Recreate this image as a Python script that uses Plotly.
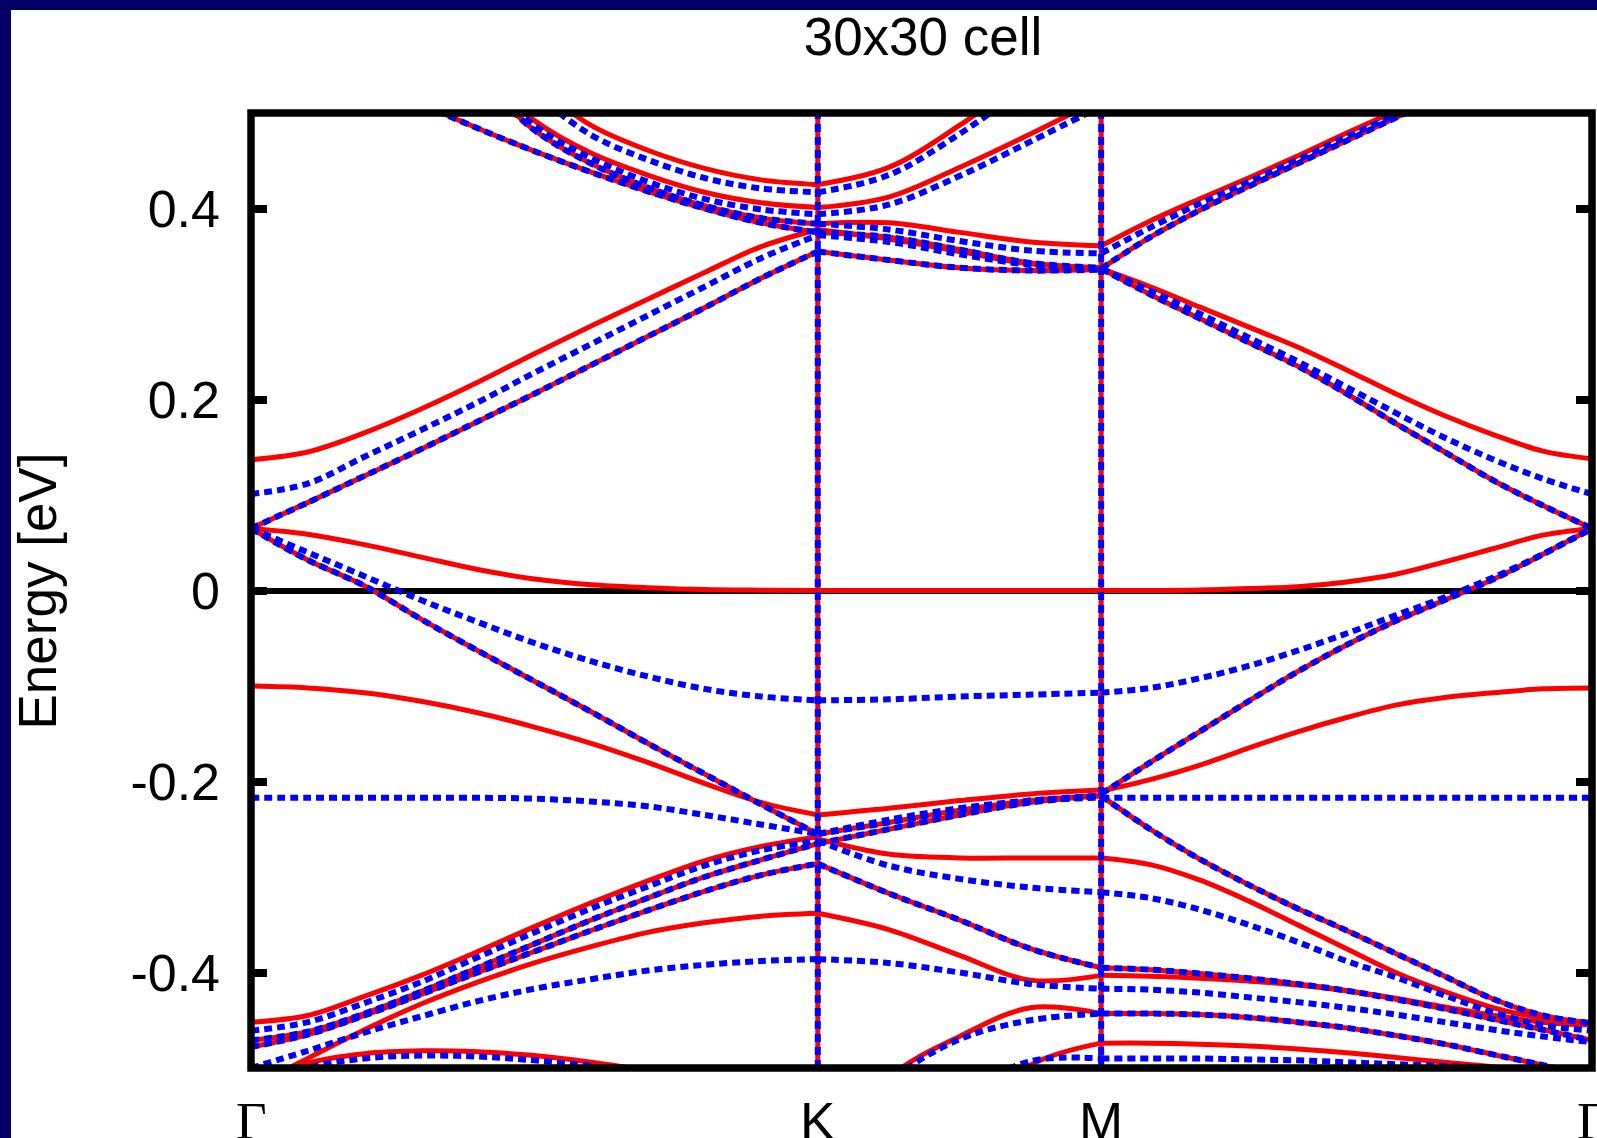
import plotly.graph_objects as go

# ---------------- text / axes ----------------
title_text = "30x30 cell"
y_label = "Energy [eV]"
sym_labels = ["Γ", "K", "M", "Γ"]
sym_pos = [0.0, 1.0, 1.5, 2.366]
ytick_vals = [-0.4, -0.2, 0.0, 0.2, 0.4]
ytick_text = ["-0.4", "-0.2", "0", "0.2", "0.4"]
y_range = [-0.5, 0.5]

# fractional positions along each path segment
t_GK = [0.0, 0.1, 0.2, 0.3, 0.4, 0.5, 0.6, 0.7, 0.8, 0.9, 1.0]
s_KM = [0.0, 0.25, 0.5, 0.75, 1.0]
u_MG = [0.0, 0.1, 0.2, 0.3, 0.4, 0.5, 0.6, 0.7, 0.8, 0.9, 1.0]

# ---------------- bands: segment Gamma-K ----------------
red_GK = [
    [0.137, 0.145, 0.165, 0.19, 0.218, 0.248, 0.277, 0.305, 0.333, 0.36, 0.378],
    [0.065, 0.092, 0.12, 0.148, 0.177, 0.206, 0.236, 0.266, 0.296, 0.327, 0.355],
    [0.68, 0.64, 0.60, 0.565, 0.575, 0.53, 0.487, 0.461, 0.442, 0.43, 0.425],
    [0.70, 0.66, 0.62, 0.58, 0.545, 0.492, 0.458, 0.435, 0.417, 0.406, 0.401],
    [0.68, 0.64, 0.60, 0.57, 0.535, 0.482, 0.447, 0.422, 0.403, 0.39, 0.384],
    [0.60, 0.57, 0.54, 0.51, 0.484, 0.46, 0.438, 0.418, 0.40, 0.385, 0.375],
    [0.065, 0.059, 0.048, 0.035, 0.022, 0.012, 0.006, 0.003, 0.001, 0.0003, 0.0],
    [0.065, 0.032, 0.005, -0.03, -0.063, -0.095, -0.127, -0.16, -0.192, -0.224, -0.255],
    [-0.1, -0.102, -0.107, -0.116, -0.128, -0.143, -0.16, -0.18, -0.202, -0.222, -0.235],
    [-0.452, -0.445, -0.425, -0.403, -0.378, -0.352, -0.327, -0.304, -0.283, -0.268, -0.258],
    [-0.471, -0.462, -0.443, -0.42, -0.395, -0.37, -0.345, -0.322, -0.30, -0.282, -0.265],
    [-0.478, -0.465, -0.445, -0.423, -0.40, -0.378, -0.356, -0.335, -0.315, -0.298, -0.286],
    [-0.52, -0.49, -0.46, -0.433, -0.41, -0.39, -0.373, -0.358, -0.348, -0.341, -0.338],
    [-0.52, -0.495, -0.485, -0.482, -0.483, -0.487, -0.494, -0.503, -0.515, -0.53, -0.55],
]
blue_GK = [
    [0.101, 0.112, 0.14, 0.168, 0.197, 0.228, 0.258, 0.288, 0.318, 0.348, 0.372],
    [0.065, 0.092, 0.12, 0.148, 0.177, 0.206, 0.236, 0.266, 0.296, 0.327, 0.355],
    [0.67, 0.63, 0.59, 0.555, 0.565, 0.52, 0.477, 0.451, 0.432, 0.421, 0.417],
    [0.70, 0.66, 0.62, 0.58, 0.54, 0.487, 0.453, 0.428, 0.41, 0.399, 0.394],
    [0.68, 0.64, 0.60, 0.57, 0.535, 0.482, 0.447, 0.422, 0.403, 0.39, 0.384],
    [0.60, 0.57, 0.54, 0.51, 0.484, 0.46, 0.438, 0.418, 0.40, 0.385, 0.375],
    [0.065, 0.04, 0.015, -0.01, -0.033, -0.055, -0.074, -0.09, -0.103, -0.111, -0.115],
    [0.065, 0.032, 0.005, -0.03, -0.063, -0.095, -0.127, -0.16, -0.192, -0.224, -0.255],
    [-0.217, -0.217, -0.217, -0.217, -0.217, -0.218, -0.221, -0.226, -0.235, -0.245, -0.255],
    [-0.461, -0.452, -0.432, -0.41, -0.384, -0.358, -0.333, -0.31, -0.288, -0.272, -0.262],
    [-0.471, -0.462, -0.443, -0.42, -0.395, -0.37, -0.345, -0.322, -0.30, -0.282, -0.265],
    [-0.478, -0.465, -0.445, -0.423, -0.40, -0.378, -0.356, -0.335, -0.315, -0.298, -0.286],
    [-0.50, -0.482, -0.463, -0.446, -0.43, -0.417, -0.407, -0.398, -0.392, -0.388, -0.386],
    [-0.525, -0.50, -0.49, -0.487, -0.488, -0.492, -0.498, -0.507, -0.518, -0.533, -0.55],
]

# ---------------- bands: segment K-M ----------------
red_KM = [
    [0.425, 0.443, 0.487, 0.54, 0.59],
    [0.401, 0.412, 0.443, 0.478, 0.515],
    [0.384, 0.385, 0.375, 0.365, 0.361],
    [0.375, 0.37, 0.357, 0.343, 0.338],
    [0.355, 0.346, 0.338, 0.335, 0.336],
    [0.378, 0.368, 0.355, 0.342, 0.338],
    [0.0, 0.0, 0.0, 0.0, 0.0],
    [-0.235, -0.228, -0.22, -0.213, -0.209],
    [-0.255, -0.243, -0.23, -0.22, -0.215],
    [-0.265, -0.25, -0.235, -0.222, -0.215],
    [-0.26, -0.276, -0.28, -0.28, -0.28],
    [-0.286, -0.317, -0.345, -0.375, -0.395],
    [-0.338, -0.355, -0.382, -0.408, -0.403],
    [-0.60, -0.51, -0.467, -0.437, -0.443],
    [-0.75, -0.65, -0.56, -0.497, -0.474],
]
blue_KM = [
    [0.417, 0.435, 0.478, 0.53, 0.58],
    [0.394, 0.404, 0.434, 0.47, 0.507],
    [0.384, 0.378, 0.366, 0.356, 0.353],
    [0.375, 0.37, 0.357, 0.343, 0.338],
    [0.355, 0.346, 0.338, 0.335, 0.336],
    [0.372, 0.365, 0.352, 0.341, 0.337],
    [-0.115, -0.114, -0.111, -0.109, -0.107],
    [-0.255, -0.24, -0.228, -0.22, -0.217],
    [-0.255, -0.243, -0.23, -0.22, -0.215],
    [-0.265, -0.25, -0.235, -0.222, -0.215],
    [-0.262, -0.288, -0.302, -0.311, -0.316],
    [-0.286, -0.317, -0.345, -0.375, -0.395],
    [-0.386, -0.39, -0.40, -0.412, -0.417],
    [-0.60, -0.515, -0.47, -0.45, -0.443],
    [-0.70, -0.60, -0.53, -0.493, -0.49],
]

# ---------------- bands: segment M-Gamma ----------------
red_MG = [
    [0.361, 0.387, 0.41, 0.432, 0.455, 0.479, 0.502, 0.525, 0.55, 0.575, 0.60],
    [0.337, 0.37, 0.398, 0.423, 0.447, 0.471, 0.495, 0.519, 0.543, 0.567, 0.59],
    [0.337, 0.318, 0.297, 0.276, 0.255, 0.231, 0.206, 0.183, 0.163, 0.146, 0.138],
    [0.337, 0.31, 0.285, 0.26, 0.235, 0.206, 0.175, 0.145, 0.115, 0.089, 0.065],
    [0.0, 0.0, 0.0005, 0.002, 0.004, 0.009, 0.017, 0.03, 0.044, 0.058, 0.065],
    [-0.213, -0.18, -0.148, -0.116, -0.085, -0.057, -0.032, -0.01, 0.012, 0.038, 0.065],
    [-0.21, -0.198, -0.183, -0.165, -0.148, -0.133, -0.12, -0.112, -0.107, -0.103, -0.102],
    [-0.215, -0.25, -0.281, -0.308, -0.333, -0.356, -0.38, -0.404, -0.428, -0.445, -0.453],
    [-0.28, -0.287, -0.303, -0.325, -0.35, -0.375, -0.40, -0.42, -0.437, -0.448, -0.455],
    [-0.395, -0.397, -0.401, -0.406, -0.412, -0.419, -0.428, -0.438, -0.449, -0.46, -0.471],
    [-0.403, -0.404, -0.406, -0.409, -0.413, -0.419, -0.427, -0.436, -0.445, -0.452, -0.455],
    [-0.443, -0.443, -0.444, -0.447, -0.452, -0.458, -0.466, -0.475, -0.486, -0.497, -0.51],
    [-0.474, -0.474, -0.475, -0.477, -0.48, -0.484, -0.489, -0.494, -0.499, -0.505, -0.51],
]
blue_MG = [
    [0.353, 0.38, 0.405, 0.428, 0.451, 0.475, 0.498, 0.522, 0.546, 0.57, 0.594],
    [0.337, 0.37, 0.398, 0.423, 0.447, 0.471, 0.495, 0.519, 0.543, 0.567, 0.59],
    [0.337, 0.314, 0.29, 0.265, 0.24, 0.213, 0.186, 0.16, 0.137, 0.117, 0.101],
    [0.337, 0.31, 0.285, 0.26, 0.235, 0.206, 0.175, 0.145, 0.115, 0.089, 0.065],
    [-0.107, -0.102, -0.092, -0.079, -0.063, -0.045, -0.026, -0.007, 0.014, 0.038, 0.065],
    [-0.213, -0.18, -0.148, -0.116, -0.085, -0.057, -0.032, -0.01, 0.012, 0.038, 0.065],
    [-0.217, -0.217, -0.217, -0.217, -0.217, -0.217, -0.217, -0.217, -0.217, -0.217, -0.217],
    [-0.215, -0.25, -0.281, -0.308, -0.333, -0.356, -0.38, -0.404, -0.428, -0.445, -0.453],
    [-0.316, -0.322, -0.334, -0.35, -0.368, -0.388, -0.405, -0.424, -0.442, -0.455, -0.461],
    [-0.395, -0.397, -0.401, -0.406, -0.412, -0.419, -0.428, -0.438, -0.449, -0.46, -0.471],
    [-0.417, -0.418, -0.421, -0.426, -0.431, -0.437, -0.444, -0.452, -0.46, -0.467, -0.473],
    [-0.443, -0.443, -0.444, -0.447, -0.452, -0.458, -0.466, -0.475, -0.486, -0.497, -0.51],
    [-0.49, -0.49, -0.49, -0.491, -0.492, -0.494, -0.496, -0.498, -0.50, -0.503, -0.506],
]

# ---------------- style ----------------
W, H = 1597, 1138
ML, MR, MT, MB = 251, 5, 113, 70
RED = "#ff0000"
BLUE = "#0000ff"
NAVY = "#000066"
FONT = "Liberation Sans, Arial, sans-serif"
SERIF = "Liberation Serif, Times New Roman, serif"
FS = 53


def seg_x(a, b, fr):
    return [a + f * (b - a) for f in fr]


segments = [
    (seg_x(sym_pos[0], sym_pos[1], t_GK), red_GK, blue_GK),
    (seg_x(sym_pos[1], sym_pos[2], s_KM), red_KM, blue_KM),
    (seg_x(sym_pos[2], sym_pos[3], u_MG), red_MG, blue_MG),
]


def collect(which):
    xs, ys = [], []
    for seg in segments:
        xg = seg[0]
        for band in seg[which]:
            xs += list(xg) + [None]
            ys += list(band) + [None]
    # vertical lines at interior high-symmetry points
    for p in sym_pos[1:-1]:
        xs += [p, p, None]
        ys += [y_range[0], y_range[1], None]
    return xs, ys


fig = go.Figure()
rx, ry = collect(1)
bx, by = collect(2)
fig.add_trace(go.Scatter(x=rx, y=ry, mode="lines", hoverinfo="skip",
                         line=dict(color=RED, width=5, shape="spline", smoothing=1.0),
                         connectgaps=False, showlegend=False))
fig.add_trace(go.Scatter(x=bx, y=by, mode="lines", hoverinfo="skip",
                         line=dict(color=BLUE, width=6, dash="8px,5px", shape="spline", smoothing=1.0),
                         connectgaps=False, showlegend=False))

pw = W - ML - MR
ph = H - MT - MB
shapes = [
    dict(type="rect", xref="paper", yref="paper", x0=0, x1=1, y0=0, y1=1,
         line=dict(color="black", width=7.5), fillcolor="rgba(0,0,0,0)", layer="above"),
    # navy slide border (left and top)
    dict(type="rect", xref="paper", yref="paper", x0=-ML / pw, x1=(11 - ML) / pw,
         y0=-MB / ph, y1=1 + MT / ph, line=dict(width=0), fillcolor=NAVY, layer="above"),
    dict(type="rect", xref="paper", yref="paper", x0=-ML / pw, x1=1 + MR / pw,
         y0=1 + (MT - 10) / ph, y1=1 + MT / ph, line=dict(width=0), fillcolor=NAVY, layer="above"),
]

annotations = []
for lab, pos in zip(sym_labels, sym_pos):
    fam = SERIF if lab == "Γ" else FONT
    annotations.append(dict(x=pos, xref="x", y=-(1090 - (H - MB)) / ph, yref="paper",
                            text=lab, showarrow=False, xanchor="center", yanchor="top",
                            font=dict(family=fam, size=FS, color="black")))
annotations.append(dict(x=(37 - ML) / pw, xref="paper", y=0.5, yref="paper", text=y_label,
                        textangle=-90, showarrow=False, xanchor="center", yanchor="middle",
                        font=dict(family=FONT, size=FS, color="black")))

fig.update_layout(
    width=W, height=H,
    margin=dict(l=ML, r=MR, t=MT, b=MB, pad=0),
    paper_bgcolor="white", plot_bgcolor="white",
    title=dict(text=title_text, x=(923 - ML) / pw, xref="paper", xanchor="center",
               y=1 - 36 / H, yref="container", yanchor="middle",
               font=dict(family=FONT, size=FS, color="black")),
    shapes=shapes, annotations=annotations, showlegend=False,
)
fig.update_xaxes(range=[sym_pos[0], sym_pos[-1]], showgrid=False, zeroline=False,
                 showticklabels=False, ticks="", showline=False)
fig.update_yaxes(range=y_range, tickvals=ytick_vals, ticktext=ytick_text,
                 ticks="inside", ticklen=16, tickwidth=7.5, tickcolor="black",
                 mirror="ticks", showline=False, showgrid=False,
                 zeroline=True, zerolinecolor="black", zerolinewidth=6,
                 ticklabelstandoff=30,
                 tickfont=dict(family=FONT, size=52, color="black"))

fig.write_html("out.html", config={"displayModeBar": False},
               post_script="document.body.style.margin='0px';document.body.style.overflow='hidden';")
